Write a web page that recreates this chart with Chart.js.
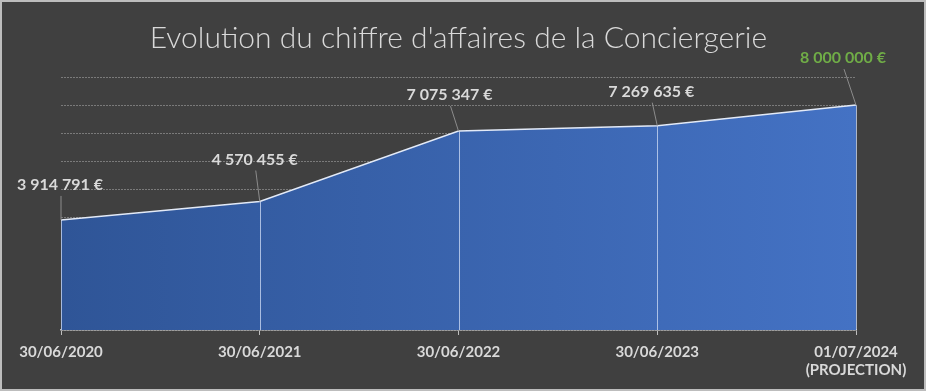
<!DOCTYPE html>
<html>
<head>
<meta charset="utf-8">
<script src="https://cdn.jsdelivr.net/npm/chart.js@4/dist/chart.umd.min.js"></script>
<style>
  html, body { margin: 0; padding: 0; background: #404040; }
  #wrap { position: relative; width: 926px; height: 391px; box-sizing: border-box; border: 2px solid #bdbdbd; background: #404040; }
  #wrap canvas { position: absolute; left: -2px; top: -2px; }
</style>
</head>
<body>
<div id="wrap"><canvas id="c" width="926" height="391"></canvas></div>
<script>
const categories = ["30/06/2020", "30/06/2021", "30/06/2022", "30/06/2023", ["01/07/2024", "(PROJECTION)"]];
const revenue = [3914791, 4570455, 7075347, 7269635, 8000000];
const valueLabels = ["3 914 791 €", "4 570 455 €", "7 075 347 €", "7 269 635 €", "8 000 000 €"];
const chartTitle = "Evolution du chiffre d'affaires de la Conciergerie";

// label placement relative to each point (style only)
const labelOffsets = [[-1, -35], [-5, -42], [-9, -36], [-6, -34], [-13, -47]];
const labelColors = ["#d9d9d9", "#d9d9d9", "#d9d9d9", "#d9d9d9", "#70ad47"];

const overlay = {
  id: 'overlay',
  afterDatasetsDraw(chart) {
    const ctx = chart.ctx;
    const meta = chart.getDatasetMeta(0);
    const yBase = chart.scales.y.getPixelForValue(0);
    ctx.save();
    // drop lines
    ctx.strokeStyle = 'rgba(210,222,245,0.75)';
    ctx.lineWidth = 1;
    meta.data.forEach((pt) => {
      ctx.beginPath();
      ctx.moveTo(Math.round(pt.x) + 0.5, pt.y);
      ctx.lineTo(Math.round(pt.x) + 0.5, yBase);
      ctx.stroke();
    });
    // leader lines + labels
    ctx.font = 'bold 16px Lato, "Open Sans", sans-serif';
    ctx.textAlign = 'center';
    ctx.textBaseline = 'middle';
    meta.data.forEach((pt, i) => {
      const [dx, dy] = labelOffsets[i];
      const lx = pt.x + dx, ly = pt.y + dy;
      ctx.strokeStyle = '#8c8c8c';
      ctx.beginPath();
      ctx.moveTo(lx + 1, ly + 11);
      ctx.lineTo(pt.x, pt.y);
      ctx.stroke();
      ctx.fillStyle = labelColors[i];
      ctx.fillText(valueLabels[i], lx, ly);
    });
    ctx.restore();
  }
};

const ctx = document.getElementById('c').getContext('2d');
new Chart(ctx, {
  type: 'line',
  data: {
    labels: categories,
    datasets: [{
      data: revenue,
      fill: 'origin',
      borderColor: '#e3eaf7',
      borderWidth: 1.5,
      pointRadius: 0,
      tension: 0,
      backgroundColor(context) {
        const ch = context.chart;
        const a = ch.chartArea;
        if (!a) return '#3a64b0';
        const g = ch.ctx.createLinearGradient(a.left, 0, a.right, 0);
        g.addColorStop(0, '#2f5597');
        g.addColorStop(1, '#4472c4');
        return g;
      }
    }]
  },
  options: {
    responsive: false,
    animation: false,
    devicePixelRatio: 1,
    layout: { padding: { left: 61, right: 70, top: 0, bottom: 4 } },
    plugins: {
      legend: { display: false },
      tooltip: { enabled: false },
      title: {
        display: true,
        text: chartTitle,
        color: '#d9d9d9',
        font: { family: 'Lato, "Open Sans", sans-serif', size: 30, weight: '300' },
        padding: { top: 20, bottom: 21 }
      }
    },
    scales: {
      x: {
        offset: false,
        grid: { display: true, drawOnChartArea: false, drawTicks: true, tickLength: 5, color: '#bfbfbf' },
        border: { display: true, color: '#bfbfbf', width: 1.5 },
        ticks: {
          color: '#d9d9d9',
          font: { family: 'Lato, "Open Sans", sans-serif', size: 15, weight: 'bold' },
          maxRotation: 0,
          autoSkip: false,
          padding: 8
        }
      },
      y: {
        min: 0,
        max: 9000000,
        ticks: { display: false, stepSize: 1000000 },
        grid: { color: '#7a7a7a', drawTicks: false, lineWidth: 1 },
        border: { display: false, dash: [2, 1] }
      }
    }
  },
  plugins: [overlay]
});
</script>
</body>
</html>
